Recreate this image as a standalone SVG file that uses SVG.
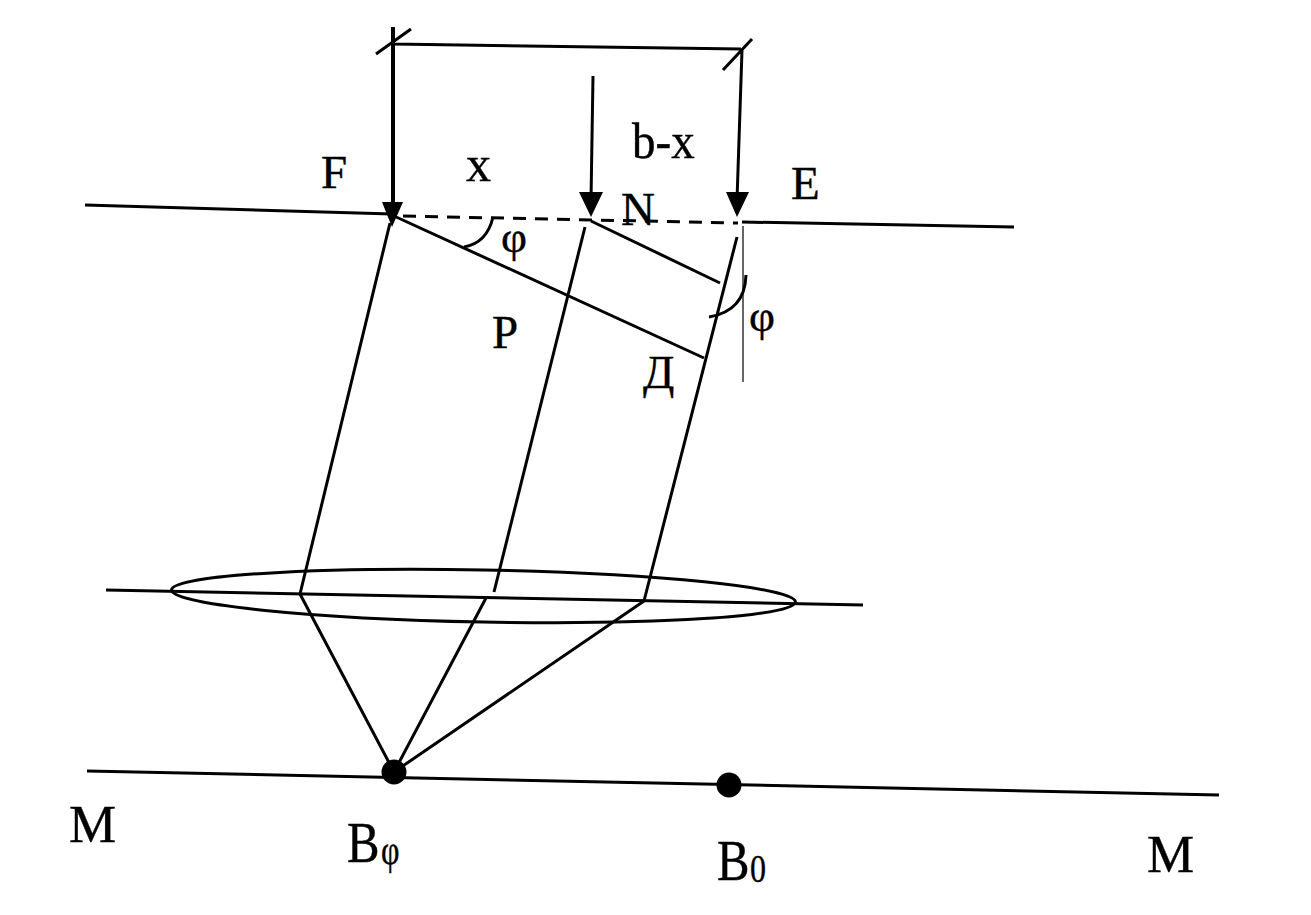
<svg xmlns="http://www.w3.org/2000/svg" width="1311" height="915" viewBox="0 0 1311 915">
<style>
.l{fill:none;stroke:#000;stroke-width:3}
.thin{fill:none;stroke:#000;stroke-width:1.2}
.d{fill:none;stroke:#000;stroke-width:3;stroke-dasharray:13 9}
.t{font-family:"Liberation Serif","Times New Roman",serif;font-size:47px;fill:#000;stroke:#000;stroke-width:.4}
</style>
<rect width="1311" height="915" fill="#fff"/>
<g id="connectors">
<path class="l" d="M85 205L392 214M742 222L1014 227M106 590L863 605M87 771L1219 795"/>
<path class="d" d="M403 216L738 223"/>
<path class="l" d="M393 44L741 49M376 54L411 29M723 70L752 39M742 50L737 200M593 76L591 200"/>
<path class="l" style="stroke-width:4" d="M393 27L393 205"/>
<path d="M382 202L403 202L392 227ZM579 192L603 192L591 217ZM726 192L749 192L737 217Z" fill="#000"/>
<path class="l" d="M394 216L704 358M591 221L720 283M390 223L300 594M585 227L494 592M737 237L644 601"/>
<path class="thin" d="M743 226L743 382"/>
<path class="l" d="M300 594L394 772M486 598L394 772M644 601L394 772"/>
<path class="l" d="M493 217Q487 243 464 247M746 275Q745 311 709 317"/>
</g>
<g id="lens"><ellipse class="l" cx="483.500" cy="596" rx="312" ry="26" transform="rotate(1.1 483.500 596)"/></g>
<g id="nodes"><circle id="b-phi" cx="394" cy="772" r="12.500"/><circle id="b-0" cx="729" cy="785" r="12.500"/></g>
<g id="labels">
<text class="t" x="321" y="188">F</text>
<text class="t" x="466" y="181" style="font-size:50px">x</text>
<text class="t" transform="translate(632 158) scale(1 1.1)">b-x</text>
<text class="t" x="791" y="199">E</text>
<text class="t" x="621" y="225">N</text>
<text class="t" x="501" y="252" style="font-size:45px">φ</text>
<text class="t" x="749" y="331" style="font-size:45px">φ</text>
<text class="t" x="492" y="348">P</text>
<text class="t" x="643" y="388" style="font-size:46px">Д</text>
<text class="t" x="69" y="842" style="font-size:53px">M</text>
<text class="t" transform="translate(347 862) scale(.87 1)" style="font-size:56px">B</text>
<text class="t" transform="translate(381 864) scale(.8 1)" style="font-size:40px">φ</text>
<text class="t" transform="translate(717 880) scale(.87 1)" style="font-size:56px">B</text>
<text class="t" transform="translate(750 882) scale(.8 1)" style="font-size:40px">0</text>
<text class="t" x="1147" y="872" style="font-size:53px">M</text>
</g>
</svg>
